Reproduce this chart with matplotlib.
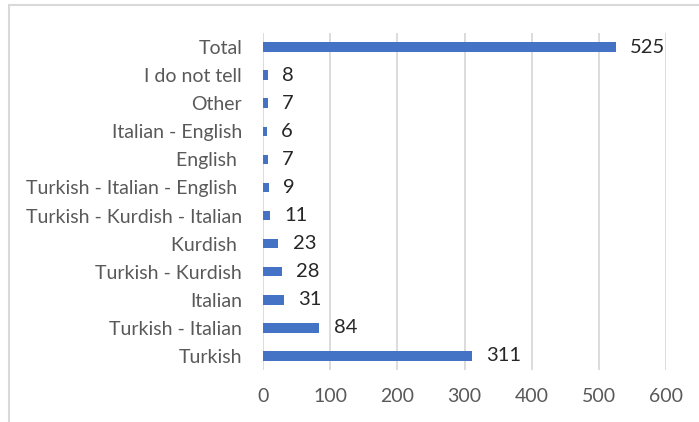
import matplotlib
matplotlib.use("Agg")
import matplotlib.pyplot as plt
from matplotlib.patches import Rectangle

categories = ["Turkish", "Turkish - Italian", "Italian", "Turkish - Kurdish", "Kurdish ",
              "Turkish - Kurdish - Italian", "Turkish - Italian - English ", "English ",
              "Italian - English", "Other", "I do not tell", "Total"]
counts = [311, 84, 31, 28, 23, 11, 9, 7, 6, 7, 8, 525]
xticks = [0, 100, 200, 300, 400, 500, 600]

plt.rcParams['font.family'] = ['Lato', 'DejaVu Sans']

fig = plt.figure(figsize=(6.99, 4.22), dpi=100)
ax = fig.add_axes([263/699, 1-370/422, (666-263)/699, (370-33)/422])

ypos = list(range(len(categories)))
ax.barh(ypos, counts, height=0.34, color="#4472C4", zorder=3)
for y, v in zip(ypos, counts):
    ax.text(v + 21, y, str(v), va="center", ha="left", fontsize=14.5, color="#262626",
            zorder=4)

ax.set_xlim(0, 600)
ax.set_ylim(-0.5, len(categories) - 0.5)
ax.set_xticks(xticks)
ax.set_xticklabels([str(t) for t in xticks])
ax.set_yticks(ypos)
ax.set_yticklabels(categories)
ax.xaxis.grid(True, color="#D9D9D9", linewidth=1.3, zorder=0)
ax.tick_params(axis="both", length=0, labelsize=14, labelcolor="#595959")
ax.tick_params(axis="y", pad=15)
ax.tick_params(axis="x", pad=13)
for s in ax.spines.values():
    s.set_visible(False)

fig.patches.append(Rectangle((8.5/699, -0.1), 1.2, 1 - 5.5/422 + 0.1,
                             transform=fig.transFigure, fill=False,
                             edgecolor="#D9D9D9", linewidth=1.5))

fig.savefig("out.png", dpi=100)
